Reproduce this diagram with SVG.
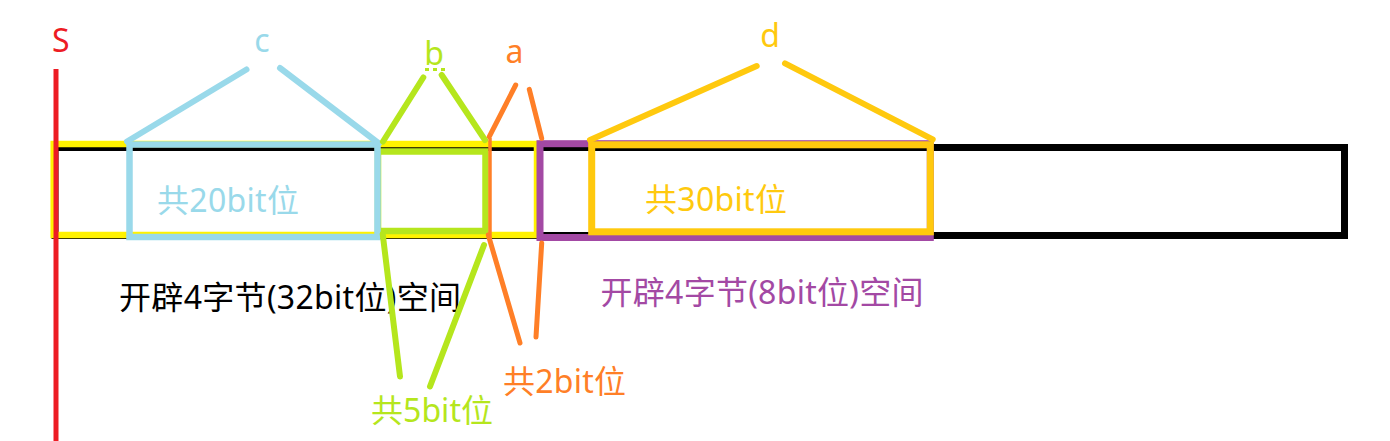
<svg xmlns="http://www.w3.org/2000/svg" width="1390" height="441" viewBox="0 0 1390 441">
<style>
text{font-family:"Noto Sans","Noto Sans CJK SC",sans-serif;font-size:32px}
.box{fill:none}
.ln{fill:none;stroke-linecap:round}
.blue{stroke:#99d9ea}.lime{stroke:#b5e61d}.orange{stroke:#ff7f27}.gold{stroke:#ffc90e}
</style>
<rect width="1390" height="441" fill="#fff"/>
<g id="memory-total">
<rect class="box" x="55" y="147.5" width="1289.5" height="88" stroke="#000" stroke-width="7"/>
</g>
<g id="block1">
<rect class="box" x="53.7" y="144" width="483.3" height="91" stroke="#fff200" stroke-width="6.5"/>
<text x="119" y="309" fill="#000" textLength="342" lengthAdjust="spacing">开辟4字节(32bit位)空间</text>
</g>
<g id="start-S">
<line x1="56" y1="69" x2="56" y2="441" stroke="#ed1c24" stroke-width="5"/>
<text x="52" y="52" fill="#ed1c24">S</text>
</g>
<g id="field-b">
<rect class="box" x="378" y="151.5" width="107.5" height="79.5" stroke="#b5e61d" stroke-width="6.5"/>
<text x="434" y="65" fill="#b5e61d" text-anchor="middle">b</text>
<rect x="425" y="68" width="4" height="3" fill="#b5e61d"/>
<rect x="433" y="68" width="4" height="3" fill="#b5e61d"/>
<rect x="441" y="68" width="4" height="3" fill="#b5e61d"/>
<text x="371" y="422" fill="#b5e61d" textLength="122" lengthAdjust="spacing">共5bit位</text>
</g>
<g id="field-c">
<rect class="box" x="129.5" y="144.5" width="248" height="92.5" stroke="#99d9ea" stroke-width="6.5"/>
<text x="262" y="52" fill="#99d9ea" text-anchor="middle">c</text>
<text x="157" y="211.5" fill="#99d9ea" textLength="142" lengthAdjust="spacing">共20bit位</text>
</g>
<g id="field-a">
<line x1="490" y1="138" x2="490" y2="240" stroke="#ff7f27" stroke-width="3.5"/>
<text x="514.5" y="63" fill="#ff7f27" text-anchor="middle">a</text>
<text x="503" y="393" fill="#ff7f27" textLength="123" lengthAdjust="spacing">共2bit位</text>
</g>
<g id="block2">
<rect class="box" x="540" y="143.7" width="390.3" height="93.8" stroke="#a349a4" stroke-width="7"/>
<text x="600.5" y="304" fill="#a349a4" textLength="323" lengthAdjust="spacing">开辟4字节(8bit位)空间</text>
</g>
<g id="field-d">
<rect class="box" x="591.7" y="144.8" width="338.6" height="87" stroke="#ffc90e" stroke-width="7"/>
<text x="770" y="46.5" fill="#ffc90e" text-anchor="middle">d</text>
<text x="645" y="211" fill="#ffc90e" textLength="142" lengthAdjust="spacing">共30bit位</text>
</g>
<g id="connectors">
<line class="ln blue" x1="127" y1="141.5" x2="246.5" y2="69.5" stroke-width="6"/>
<line class="ln blue" x1="280" y1="68" x2="379" y2="143.5" stroke-width="6"/>
<line class="ln lime" x1="383" y1="141.5" x2="423.3" y2="77.5" stroke-width="6"/>
<line class="ln lime" x1="441.7" y1="75" x2="485" y2="140" stroke-width="6"/>
<line class="ln lime" x1="382.7" y1="234" x2="400" y2="376.5" stroke-width="6"/>
<line class="ln lime" x1="484" y1="245" x2="430" y2="386.5" stroke-width="6"/>
<line class="ln orange" x1="489.3" y1="136.7" x2="515.7" y2="85" stroke-width="5"/>
<line class="ln orange" x1="529.3" y1="89.3" x2="541.7" y2="138.3" stroke-width="5"/>
<line class="ln orange" x1="488.3" y1="235" x2="520" y2="343" stroke-width="5"/>
<line class="ln orange" x1="541.7" y1="243" x2="536" y2="337" stroke-width="5"/>
<line class="ln gold" x1="590" y1="140" x2="756.7" y2="66" stroke-width="6"/>
<line class="ln gold" x1="785" y1="63.3" x2="932.7" y2="139.3" stroke-width="6"/>
</g>
</svg>
